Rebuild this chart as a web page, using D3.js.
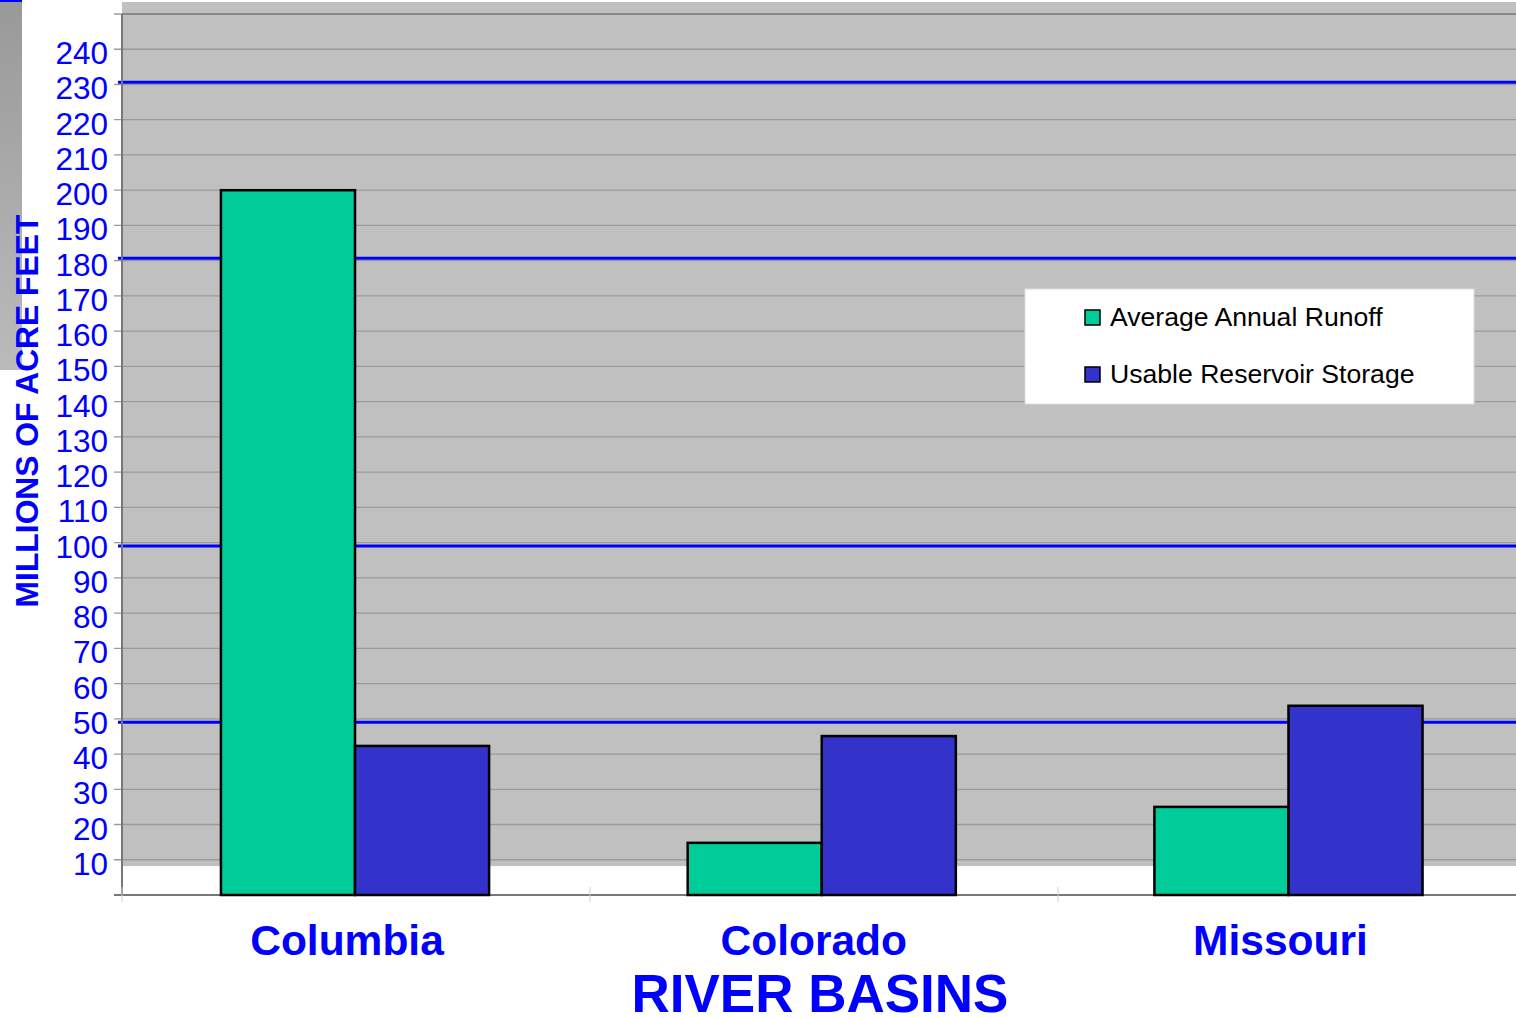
<!DOCTYPE html>
<html>
<head>
<meta charset="utf-8">
<script src="https://cdn.jsdelivr.net/npm/d3@7"></script>
<style>
  body { margin: 0; background: #fff; }
  svg { display: block; font-family: Arial, "Liberation Sans", sans-serif; }
</style>
</head>
<body>
<svg width="1516" height="1018"></svg>
<script>
// data
var basins = ['Columbia', 'Colorado', 'Missouri'];
var seriesNames = ['Average Annual Runoff', 'Usable Reservoir Storage'];
var runoff = [200, 14.8, 25];
var storage = [42.3, 45.1, 53.7];
var yTicks = [10, 20, 30, 40, 50, 60, 70, 80, 90, 100, 110, 120, 130, 140, 150, 160, 170, 180, 190, 200, 210, 220, 230, 240];
var refLines = [49, 99, 180.7, 230.6];
var seriesColors = ['#00cc99', '#3333cc'];

var svg = d3.select('svg');
var svgWidth = +svg.attr('width');

var plot = {l: 122, t: 14, b: 895};

var yScale = d3.scaleLinear().domain([0, 250]).range([plot.b, plot.t]);
// category axis (separator ticks) and bar placement
var xAxisBand = d3.scaleBand().domain(basins).range([plot.l, plot.l + 468 * 3]);
var xScale = d3.scaleBand().domain(basins)
    .range([plot.l, plot.l + 466.5 * 3])
    .paddingInner(0.4255).paddingOuter(0.212);
var xSub = d3.scaleBand().domain(seriesNames).range([0, xScale.bandwidth()]);
var color = d3.scaleOrdinal().domain(seriesNames).range(seriesColors);

var rows = basins.map(function(b, i) {
    return {basin: b, values: [
        {name: seriesNames[0], value: runoff[i]},
        {name: seriesNames[1], value: storage[i]}
    ]};
});

// left decoration strip
var grad = svg.append('defs').append('linearGradient')
    .attr('id', 'strip').attr('x1', 0).attr('x2', 0).attr('y1', 0).attr('y2', 1);
grad.append('stop').attr('offset', 0).attr('stop-color', '#999');
grad.append('stop').attr('offset', 1).attr('stop-color', '#bbb');
svg.append('rect').attr('x', 0).attr('y', 0).attr('width', 22).attr('height', 370)
    .attr('fill', 'url(#strip)');
svg.append('rect').attr('x', 0).attr('y', 0).attr('width', 22).attr('height', 2)
    .attr('fill', '#0000ff');

// plot background
svg.append('rect').attr('x', plot.l).attr('y', 2)
    .attr('width', svgWidth - plot.l).attr('height', yScale(8.2) - 2)
    .attr('fill', '#c0c0c0');

// gridlines
svg.append('g').selectAll('line')
    .data(yTicks.concat([250]))
    .enter().append('line')
    .attr('x1', plot.l - 8).attr('x2', svgWidth)
    .attr('y1', function(d) { return yScale(d); })
    .attr('y2', function(d) { return yScale(d); })
    .attr('stroke', '#9a9a9a').attr('stroke-width', 1.3);

svg.append('line')
    .attr('x1', plot.l).attr('x2', svgWidth)
    .attr('y1', plot.t).attr('y2', plot.t)
    .attr('stroke', '#888').attr('stroke-width', 2);

// thick blue reference lines
svg.append('g').selectAll('line')
    .data(refLines)
    .enter().append('line')
    .attr('x1', plot.l - 4).attr('x2', svgWidth)
    .attr('y1', function(d) { return yScale(d); })
    .attr('y2', function(d) { return yScale(d); })
    .attr('stroke', '#0000ff').attr('stroke-width', 3);

// axes frame
svg.append('line')
    .attr('x1', plot.l).attr('x2', plot.l).attr('y1', plot.t).attr('y2', plot.b)
    .attr('stroke', '#777').attr('stroke-width', 2);
svg.append('line')
    .attr('x1', plot.l - 8).attr('x2', svgWidth).attr('y1', plot.b).attr('y2', plot.b)
    .attr('stroke', '#777').attr('stroke-width', 2);

// category separators
svg.append('g').selectAll('line')
    .data(basins)
    .enter().append('line')
    .attr('x1', function(d) { return xAxisBand(d); })
    .attr('x2', function(d) { return xAxisBand(d); })
    .attr('y1', plot.b - 8).attr('y2', plot.b + 7)
    .attr('stroke', '#ccc').attr('stroke-width', 1);

// bars
var groups = svg.append('g').selectAll('g')
    .data(rows)
    .enter().append('g')
    .attr('transform', function(d) { return 'translate(' + xScale(d.basin) + ',0)'; });

groups.selectAll('rect')
    .data(function(d) { return d.values; })
    .enter().append('rect')
    .attr('x', function(d) { return xSub(d.name); })
    .attr('y', function(d) { return yScale(d.value); })
    .attr('width', xSub.bandwidth())
    .attr('height', function(d) { return plot.b - yScale(d.value); })
    .attr('fill', function(d) { return color(d.name); })
    .attr('stroke', '#000').attr('stroke-width', 2.5);

// y tick labels
svg.append('g').selectAll('text')
    .data(yTicks)
    .enter().append('text')
    .attr('x', 108)
    .attr('y', function(d) { return yScale(d) + 15; })
    .attr('text-anchor', 'end')
    .attr('font-size', 31.5)
    .attr('fill', '#0000ff')
    .text(function(d) { return d; });

// y title
svg.append('text')
    .attr('transform', 'translate(38,411) rotate(-90)')
    .attr('text-anchor', 'middle')
    .attr('font-size', 31.8)
    .attr('font-weight', 'bold')
    .attr('fill', '#0000ff')
    .text('MILLIONS OF ACRE FEET');

// category labels
svg.append('g').selectAll('text')
    .data(basins)
    .enter().append('text')
    .attr('x', function(d) { return xScale(d) + xScale.bandwidth() / 2 - 8; })
    .attr('y', 955)
    .attr('text-anchor', 'middle')
    .attr('font-size', 42.5)
    .attr('font-weight', 'bold')
    .attr('fill', '#0000ff')
    .text(function(d) { return d; });

svg.append('text')
    .attr('x', 820).attr('y', 1012)
    .attr('text-anchor', 'middle')
    .attr('font-size', 53)
    .attr('font-weight', 'bold')
    .attr('fill', '#0000ff')
    .text('RIVER BASINS');

// legend
var legend = svg.append('g').attr('transform', 'translate(1025,289)');
legend.append('rect')
    .attr('width', 449).attr('height', 115)
    .attr('fill', '#fff').attr('stroke', '#ddd').attr('stroke-width', 1);

var item = legend.selectAll('g.item')
    .data(seriesNames)
    .enter().append('g')
    .attr('class', 'item')
    .attr('transform', function(d, i) { return 'translate(60,' + (21 + i * 57) + ')'; });

item.append('rect')
    .attr('width', 15).attr('height', 15)
    .attr('fill', function(d) { return color(d); })
    .attr('stroke', '#000').attr('stroke-width', 1.5);

item.append('text')
    .attr('x', 25).attr('y', 16)
    .attr('font-size', 26.6)
    .attr('fill', '#000')
    .text(function(d) { return d; });
</script>
</body>
</html>
